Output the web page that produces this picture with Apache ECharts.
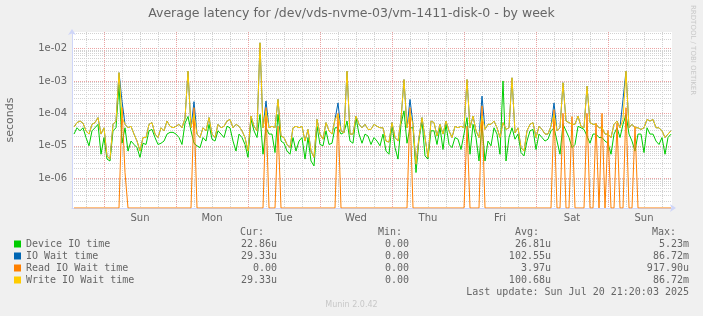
<!DOCTYPE html>
<html><head><meta charset="utf-8">
<script src="https://cdn.jsdelivr.net/npm/echarts@6/dist/echarts.min.js"></script>
<style>html,body{margin:0;padding:0;background:#F0F0F0;}#c{width:703px;height:316px;}</style>
</head><body><div id="c"></div>
<script>
const TITLE = 'Average latency for /dev/vds-nvme-03/vm-1411-disk-0 - by week';
const seriesNames = ['Device IO time', 'IO Wait time', 'Read IO Wait time', 'Write IO Wait time'];
const seriesColors = ['#00CC00', '#0066B3', '#FF8000', '#FFCC00'];
const dayLabels = ['Sun', 'Mon', 'Tue', 'Wed', 'Thu', 'Fri', 'Sat', 'Sun'];
const dayLabelHours = [12, 36, 60, 84, 108, 132, 156, 180];
// x is hours relative to Sun 13 Jul 2025 00:00; one sample per hour
const FIRST_HOUR = -10;
const X_MIN = -10.67, X_MAX = 189.33;
const Y_MIN = 1.21e-7, Y_MAX = 3.23e-2;

const deviceIO = [
2.3e-5,3.6e-5,2.9e-5,3.6e-5,1.8e-5,1.0e-5,2.9e-5,3.6e-5,4.6e-5,5.5e-6,
1.8e-5,3.9e-6,3.4e-6,2.9e-5,3.6e-5,7.7e-4,1.2e-5,3.6e-5,6.9e-6,1.4e-5,
1.1e-5,8.8e-6,4.4e-6,1.2e-5,1.1e-5,2.9e-5,3.2e-5,1.8e-5,1.1e-5,1.2e-5,
1.4e-5,2.3e-5,2.6e-5,2.6e-5,2.3e-5,1.8e-5,1.1e-5,5.0e-5,8.0e-5,2.9e-5,
1.2e-5,1.0e-5,8.8e-6,1.8e-5,1.4e-5,4.6e-5,1.6e-5,1.4e-5,2.9e-5,2.3e-5,
1.8e-5,4.0e-5,3.6e-5,1.4e-5,6.9e-6,2.3e-5,1.8e-5,1.1e-5,4.4e-6,6.5e-5,
2.9e-5,1.8e-5,9.3e-5,5.5e-6,3.6e-5,2.3e-5,2.3e-5,6.2e-6,9.3e-5,1.4e-5,
1.2e-5,6.9e-6,5.5e-6,1.8e-5,6.9e-6,1.4e-5,1.8e-5,3.9e-6,1.8e-5,3.4e-6,
2.4e-6,4.0e-5,1.1e-5,1.0e-5,2.9e-5,1.1e-5,1.2e-5,3.6e-5,3.6e-5,2.3e-5,
2.6e-5,5.8e-5,1.4e-5,1.2e-5,7.4e-5,2.3e-5,1.2e-5,2.3e-5,2.0e-5,1.1e-5,
1.8e-5,1.4e-5,1.0e-5,2.3e-5,6.9e-6,5.5e-6,4.6e-5,8.8e-6,3.9e-6,4.6e-5,
1.2e-4,1.2e-5,3.6e-5,3.6e-5,1.5e-6,1.6e-5,5.8e-5,4.9e-6,3.9e-6,2.9e-5,
2.9e-5,1.1e-5,3.6e-5,7.7e-6,4.6e-5,1.1e-5,8.8e-6,1.8e-5,1.6e-5,7.7e-6,
2.3e-5,7.4e-5,5.5e-6,4.6e-5,1.8e-5,3.4e-6,4.6e-5,3.4e-6,1.4e-5,1.0e-5,
3.6e-5,2.3e-5,5.5e-6,1.0e-3,3.4e-6,1.8e-5,3.6e-5,1.6e-5,2.3e-5,6.2e-6,
4.9e-6,1.4e-5,2.9e-5,3.2e-5,7.7e-6,2.3e-5,1.8e-5,1.4e-5,1.6e-5,2.9e-5,
3.6e-5,1.4e-5,5.5e-6,4.6e-5,2.9e-5,1.8e-5,8.8e-6,1.1e-5,4.0e-5,3.6e-5,
3.2e-5,2.0e-5,1.2e-5,2.3e-5,2.3e-5,1.8e-5,1.8e-5,1.4e-5,1.2e-5,5.5e-6,
2.3e-5,3.6e-5,1.8e-5,4.6e-5,9.3e-5,2.3e-5,1.4e-5,6.9e-6,2.3e-5,2.3e-5,
6.2e-6,3.6e-5,2.3e-5,2.3e-5,1.4e-5,1.1e-5,1.8e-5,5.5e-6,1.8e-5,2.29e-5
];
const ioWait = [
3.8e-5,5.2e-5,5.8e-5,5.0e-5,2.9e-5,2.3e-5,4.6e-5,5.2e-5,7.4e-5,2.3e-5,
3.6e-5,4.9e-6,3.9e-6,4.6e-5,5.8e-5,1.8e-3,2.4e-4,4.6e-5,3.6e-5,4.0e-5,
2.3e-5,1.4e-5,6.9e-6,1.8e-5,1.8e-5,4.6e-5,5.2e-5,2.3e-5,1.8e-5,3.6e-5,
2.9e-5,5.8e-5,4.0e-5,3.6e-5,4.0e-5,4.6e-5,3.6e-5,7.0e-5,2.0e-3,3.6e-5,
2.3e-4,2.3e-5,1.8e-5,3.6e-5,2.9e-5,7.4e-5,2.3e-5,1.8e-5,4.6e-5,3.6e-5,
4.0e-5,5.8e-5,6.5e-5,3.6e-5,4.6e-5,4.0e-5,2.9e-5,1.8e-5,6.9e-6,8.3e-5,
4.0e-5,2.9e-5,1.5e-2,3.6e-5,2.4e-4,3.6e-5,4.0e-5,3.6e-5,2.7e-4,2.0e-5,
1.8e-5,1.1e-5,8.8e-6,3.6e-5,4.0e-5,3.6e-5,4.0e-5,1.4e-5,3.2e-5,6.9e-6,
4.4e-6,6.5e-5,2.3e-5,1.6e-5,5.2e-5,2.9e-5,2.3e-5,6.5e-5,2.1e-4,2.9e-5,
2.5e-5,2.0e-3,2.3e-5,2.3e-5,8.3e-5,4.6e-5,3.6e-5,4.6e-5,3.2e-5,3.2e-5,
4.6e-5,4.0e-5,3.6e-5,3.6e-5,1.4e-5,1.3e-5,5.2e-5,1.8e-5,1.4e-5,6.5e-5,
1.1e-3,3.6e-5,2.7e-4,4.6e-5,2.7e-6,1.8e-5,7.4e-5,1.8e-5,4.4e-6,5.8e-5,
5.2e-5,2.0e-5,4.6e-5,2.3e-5,5.8e-5,2.9e-5,1.8e-5,4.0e-5,3.6e-5,4.0e-5,
3.6e-5,1.1e-3,3.6e-5,8.3e-5,2.9e-5,1.8e-5,3.4e-4,3.2e-5,4.6e-5,4.6e-5,
5.8e-5,3.6e-5,1.8e-5,5.2e-5,3.2e-5,3.6e-5,1.25e-3,2.5e-5,3.6e-5,8.8e-6,
6.9e-6,2.9e-5,4.6e-5,5.2e-5,1.8e-5,4.0e-5,3.2e-5,2.3e-5,2.3e-5,4.0e-5,
2.1e-4,2.9e-5,3.6e-5,8.8e-4,5.8e-5,5.2e-5,4.6e-5,4.6e-5,8.3e-5,4.0e-5,
3.6e-5,6.9e-4,5.2e-5,4.6e-5,4.6e-5,3.6e-5,3.6e-5,2.3e-5,2.3e-5,1.8e-5,
4.6e-5,5.8e-5,3.6e-5,2.7e-4,2.0e-3,3.6e-5,4.6e-5,3.6e-5,3.6e-5,3.2e-5,
3.6e-5,6.5e-5,5.8e-5,6.5e-5,3.6e-5,3.6e-5,2.9e-5,1.8e-5,2.3e-5,2.933e-5
];
const readWait = [
0,0,0,0,0,0,0,0,0,0,
0,0,0,0,0,0,1.5e-4,1.5e-6,0,0,
0,0,0,0,0,0,0,0,0,0,
0,0,0,0,0,0,0,0,0,0,
1.5e-4,0,0,0,0,0,0,0,0,0,
0,0,0,0,0,0,0,0,0,0,
0,0,0,0,1.5e-4,0,0,0,4e-5,0,
0,0,0,0,0,0,0,0,0,0,
0,0,0,0,0,0,0,0,1e-4,0,
0,0,0,0,0,0,0,0,0,0,
0,0,0,0,0,0,0,0,0,0,
0,0,1.5e-4,0,0,0,0,0,0,0,
0,0,0,0,0,0,0,0,0,0,
0,4e-5,0,0,0,0,1.7e-4,0,0,0,
0,0,0,0,0,0,0,0,0,0,
0,0,0,0,0,0,0,0,0,0,
1.3e-4,0,0,1e-4,0,0,8e-5,0,0,0,
0,1e-4,0,0,5e-5,0,1e-4,0,3e-5,0,
0,5e-5,0,0,1.5e-4,0,0,4e-5,0,0,
0,0,0,0,0,0,0,0,0,0
];
const writeWait = [
3.8e-5,5.2e-5,5.8e-5,5.0e-5,2.9e-5,2.3e-5,4.6e-5,5.2e-5,7.4e-5,2.3e-5,
3.6e-5,4.9e-6,3.9e-6,4.6e-5,5.8e-5,1.8e-3,7.4e-5,4.6e-5,3.6e-5,4.0e-5,
2.3e-5,1.4e-5,6.9e-6,1.8e-5,1.8e-5,4.6e-5,5.2e-5,2.3e-5,1.8e-5,3.6e-5,
2.9e-5,5.8e-5,4.0e-5,3.6e-5,4.0e-5,4.6e-5,3.6e-5,7.0e-5,2.0e-3,3.6e-5,
9.3e-5,2.3e-5,1.8e-5,3.6e-5,2.9e-5,7.4e-5,2.3e-5,1.8e-5,4.6e-5,3.6e-5,
4.0e-5,5.8e-5,6.5e-5,3.6e-5,4.6e-5,4.0e-5,2.9e-5,1.8e-5,6.9e-6,8.3e-5,
4.0e-5,2.9e-5,1.5e-2,3.6e-5,1.2e-4,3.6e-5,4.0e-5,3.6e-5,2.7e-4,2.0e-5,
1.8e-5,1.1e-5,8.8e-6,3.6e-5,4.0e-5,3.6e-5,4.0e-5,1.4e-5,3.2e-5,6.9e-6,
4.4e-6,6.5e-5,2.3e-5,1.6e-5,5.2e-5,2.9e-5,2.3e-5,6.5e-5,9.3e-5,2.9e-5,
2.5e-5,2.0e-3,2.3e-5,2.3e-5,8.3e-5,4.6e-5,3.6e-5,4.6e-5,3.2e-5,3.2e-5,
4.6e-5,4.0e-5,3.6e-5,3.6e-5,1.4e-5,1.3e-5,5.2e-5,1.8e-5,1.4e-5,6.5e-5,
1.1e-3,3.6e-5,1.0e-4,4.6e-5,2.7e-6,1.8e-5,7.4e-5,1.8e-5,4.4e-6,5.8e-5,
5.2e-5,2.0e-5,4.6e-5,2.3e-5,5.8e-5,2.9e-5,1.8e-5,4.0e-5,3.6e-5,4.0e-5,
3.6e-5,1.1e-3,3.6e-5,8.3e-5,2.9e-5,1.8e-5,8.3e-5,3.2e-5,4.6e-5,4.6e-5,
5.8e-5,3.6e-5,1.8e-5,5.2e-5,3.2e-5,3.6e-5,1.25e-3,2.5e-5,3.6e-5,8.8e-6,
6.9e-6,2.9e-5,4.6e-5,5.2e-5,1.8e-5,4.0e-5,3.2e-5,2.3e-5,2.3e-5,4.0e-5,
9.3e-5,2.9e-5,3.6e-5,8.8e-4,5.8e-5,5.2e-5,4.6e-5,4.6e-5,8.3e-5,4.0e-5,
3.6e-5,6.9e-4,5.2e-5,4.6e-5,4.6e-5,3.6e-5,3.6e-5,2.3e-5,2.3e-5,1.8e-5,
4.6e-5,5.8e-5,3.6e-5,6.5e-5,2.0e-3,3.6e-5,4.6e-5,3.6e-5,3.6e-5,3.2e-5,
3.6e-5,6.5e-5,5.8e-5,6.5e-5,3.6e-5,3.6e-5,2.9e-5,1.8e-5,2.3e-5,2.933e-5
];

const statHeaders = ['Cur:', 'Min:', 'Avg:', 'Max:'];
const statCur = ['22.86u', '29.33u', '0.00', '29.33u'];
const statMin = ['0.00', '0.00', '0.00', '0.00'];
const statAvg = ['26.81u', '102.55u', '3.97u', '100.68u'];
const statMax = ['5.23m', '86.72m', '917.90u', '86.72m'];
const LAST_UPDATE = 'Last update: Sun Jul 20 21:20:03 2025';
const VERSION = 'Munin 2.0.42';
const WATERMARK = 'RRDTOOL / TOBI OETIKER';

const FONT_COLOR = '#666666';
const AXIS_COLOR = '#CFD6F8';
const minorStyle = { color: '#d2d2d2', type: 'dotted', width: 1 };
const majorStyle = { color: '#eba3a3', type: 'dotted', width: 1 };

// vertical grid positions: every 6 h (minor) and every midnight (major)
const sixHourTicks = [], midnightTicks = [];
for (let h = -6; h < X_MAX; h += 6) {
  if (h % 24 === 0) midnightTicks.push(h); else sixHourTicks.push(h);
}

const seriesArrays = [deviceIO, ioWait, readWait, writeWait];
const hours = deviceIO.map((_, i) => FIRST_HOUR + i);
const toPoints = arr => arr.map((v, i) => [hours[i], v > 0 ? v : Y_MIN]);

const series = seriesArrays.map((arr, i) => ({
  name: seriesNames[i],
  type: 'line',
  xAxisIndex: 0,
  data: toPoints(arr),
  symbol: 'none',
  showSymbol: false,
  lineStyle: { width: 1, color: seriesColors[i] },
  itemStyle: { color: seriesColors[i] },
  emphasis: { disabled: true },
  z: 3
}));

// legend / stats block
const mono = '10px "DejaVu Sans Mono"';
const graphics = [];
graphics.push({ type: 'text', x: 351.5, y: 14, style: { text: TITLE, font: '12.5px "DejaVu Sans"', fill: FONT_COLOR, align: 'center', verticalAlign: 'middle' } });
graphics.push({ type: 'text', x: 693, y: 5, rotation: -Math.PI / 2, style: { text: WATERMARK, font: '7px "DejaVu Sans"', fill: '#c8c8c8', align: 'left', verticalAlign: 'middle' } });
const headerRight = [264, 402, 539, 676];
const valueRight = [277, 409, 551, 689];
statHeaders.forEach((t, j) => graphics.push({ type: 'text', x: headerRight[j], y: 232, style: { text: t, font: mono, fill: FONT_COLOR, align: 'right', verticalAlign: 'middle' } }));
const statCols = [statCur, statMin, statAvg, statMax];
seriesNames.forEach((n, i) => {
  const y = 244 + i * 12;
  graphics.push({ type: 'rect', shape: { x: 14, y: y - 3.5, width: 7, height: 7 }, style: { fill: seriesColors[i] } });
  graphics.push({ type: 'text', x: 26, y: y, style: { text: n, font: mono, fill: FONT_COLOR, align: 'left', verticalAlign: 'middle' } });
  statCols.forEach((col, j) => graphics.push({ type: 'text', x: valueRight[j], y: y, style: { text: col[i], font: mono, fill: FONT_COLOR, align: 'right', verticalAlign: 'middle' } }));
});
graphics.push({ type: 'text', x: 689, y: 292, style: { text: LAST_UPDATE, font: mono, fill: FONT_COLOR, align: 'right', verticalAlign: 'middle' } });
graphics.push({ type: 'text', x: 351.5, y: 305, style: { text: VERSION, font: '8px "DejaVu Sans"', fill: '#c8c8c8', align: 'center', verticalAlign: 'middle' } });

const chart = echarts.init(document.getElementById('c'), null, { renderer: 'canvas' });
chart.setOption({
  animation: false,
  backgroundColor: '#F0F0F0',
  grid: { left: 72, right: 31, top: 32, bottom: 108, show: true, backgroundColor: '#FFFFFF', borderWidth: 0, containLabel: false, outerBoundsMode: 'none' },
  xAxis: [{
    type: 'value', min: X_MIN, max: X_MAX, position: 'bottom',
    axisLine: { show: true, onZero: false, lineStyle: { color: AXIS_COLOR, width: 1 }, symbol: ['none', 'arrow'], symbolSize: [6, 6], symbolOffset: [0, 4] },
    axisTick: { show: false, customValues: sixHourTicks },
    splitLine: { show: true, lineStyle: minorStyle },
    axisLabel: {
      customValues: dayLabelHours,
      formatter: v => dayLabels[dayLabelHours.indexOf(v)] || '',
      color: FONT_COLOR, fontFamily: 'DejaVu Sans', fontSize: 10, margin: 5
    }
  }, {
    type: 'value', min: X_MIN, max: X_MAX, position: 'bottom',
    axisLine: { show: false, onZero: false },
    axisTick: { show: false, customValues: midnightTicks },
    axisLabel: { show: false, customValues: midnightTicks },
    splitLine: { show: true, lineStyle: majorStyle }
  }],
  yAxis: {
    type: 'log', logBase: 10, min: Y_MIN, max: Y_MAX,
    name: 'seconds', nameLocation: 'middle', nameGap: 56,
    nameTextStyle: { color: FONT_COLOR, fontFamily: 'DejaVu Sans', fontSize: 11 },
    axisLine: { show: true, onZero: false, lineStyle: { color: AXIS_COLOR, width: 1 }, symbol: ['none', 'arrow'], symbolSize: [6, 6], symbolOffset: [0, 3] },
    axisTick: { show: false },
    minorTick: { show: false, splitNumber: 9 },
    splitLine: { show: true, showMinLine: false, showMaxLine: false, lineStyle: majorStyle },
    minorSplitLine: { show: true, lineStyle: minorStyle },
    axisLabel: {
      showMinLabel: false, showMaxLabel: false,
      color: FONT_COLOR, fontFamily: 'DejaVu Sans', fontSize: 10, margin: 5,
      formatter: v => {
        const l = Math.log10(v), e = Math.round(l);
        if (Math.abs(l - e) > 1e-6) return '';
        const a = Math.abs(e);
        return '1e' + (e < 0 ? '-' : '+') + (a < 10 ? '0' + a : a);
      }
    }
  },
  series: series,
  graphic: graphics
});
</script>
</body></html>
